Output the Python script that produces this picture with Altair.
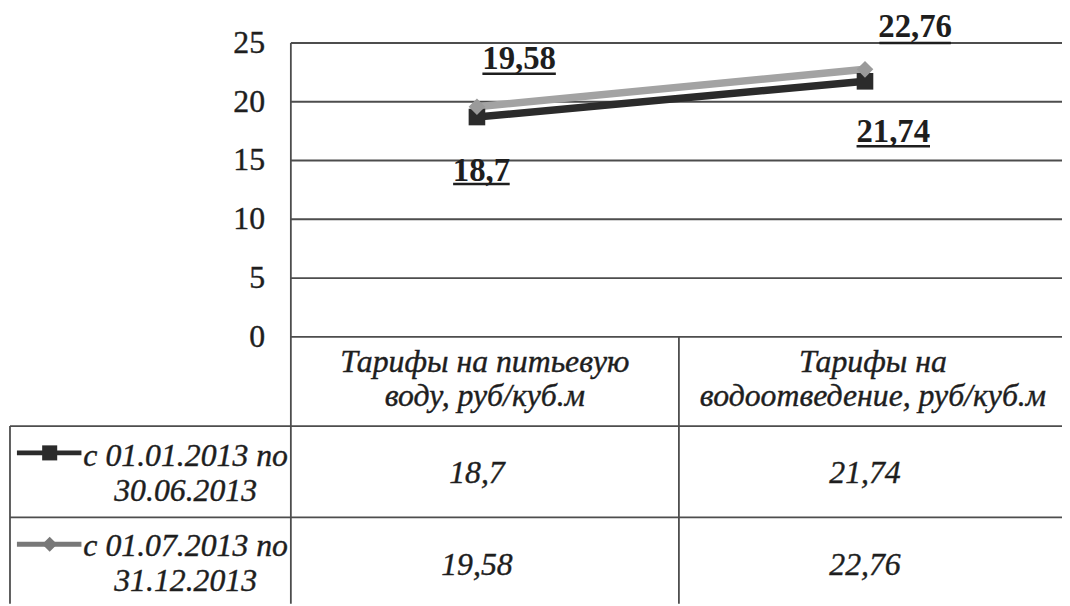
import altair as alt
import pandas as pd

# ---------------- data ----------------
categories = ["Тарифы на питьевую\nводу, руб/куб.м", "Тарифы на\nводоотведение, руб/куб.м"]
series_names = ["с 01.01.2013 по\n30.06.2013", "с 01.07.2013 по\n31.12.2013"]
series_1 = [18.7, 21.74]
series_2 = [19.58, 22.76]
y_ticks = [0, 5, 10, 15, 20, 25]

# ---------------- styles ----------------
FONT = "'Times New Roman', 'Liberation Serif', 'DejaVu Serif', serif"
TXT = "#1e1e1e"
GRID = "#4d4d4d"
series_colors = ["#2b2b2b", "#a3a3a3"]
marker_colors = ["#2b2b2b", "#9a9a9a"]
legend_colors = ["#2b2b2b", "#787878"]
shapes = ["square", "diamond"]
TXT_STYLE = dict(font=FONT, color=TXT, stroke=TXT, strokeWidth=0.4)


def fmt(x):
    return f"{x:g}".replace(".", ",")


# ---------------- layout (reference pixel -> data units) ----------------
PLOT_LEFT, BAND, ZERO_Y, PX_PER_VAL = 293, 391, 337, 11.84
W, H = 1062, 598


def ux(px):
    return (px - PLOT_LEFT) / BAND


def vy(py):
    return (ZERO_Y - py) / PX_PER_VAL


X_MIN, X_MAX = ux(8), ux(8 + W)
Y_MIN, Y_MAX = vy(8 + H), vy(8)
ROW1_TOP, ROW2_TOP = vy(427), vy(519)
TABLE_LEFT = ux(10)
HEADER_Y = vy(362)            # first line of header text
ROW_Y = [vy(457), vy(548)]    # first line of row header text
VAL_Y = [vy(474), vy(567)]    # value cells
SYMBOL_Y = [vy(454), vy(546)]

xs = alt.Scale(domain=[X_MIN, X_MAX], nice=False, zero=False)
ys = alt.Scale(domain=[Y_MIN, Y_MAX], nice=False, zero=False)


def X(f):
    return alt.X(f, type="quantitative", scale=xs, axis=None)


def Y(f):
    return alt.Y(f, type="quantitative", scale=ys, axis=None)


color_scale = alt.Scale(domain=series_names, range=series_colors)

# ---------------- tables ----------------
rows = []
for s, (name, vals) in enumerate(zip(series_names, [series_1, series_2])):
    for i, (cat, val) in enumerate(zip(categories, vals)):
        rows.append(dict(series=name, s=s, cat=cat, i=i, xc=i + 0.5,
                         value=val, label=fmt(val), rowy=VAL_Y[s]))
pts = pd.DataFrame(rows)

segs = [dict(x1=0, x2=X_MAX, y1=t, y2=t) for t in y_ticks]
segs += [
    dict(x1=TABLE_LEFT, x2=X_MAX, y1=ROW1_TOP, y2=ROW1_TOP),
    dict(x1=TABLE_LEFT, x2=X_MAX, y1=ROW2_TOP, y2=ROW2_TOP),
    dict(x1=0, x2=0, y1=max(y_ticks), y2=Y_MIN),
    dict(x1=1, x2=1, y1=0, y2=Y_MIN),
    dict(x1=TABLE_LEFT, x2=TABLE_LEFT, y1=ROW1_TOP, y2=Y_MIN),
]
segs = pd.DataFrame(segs)

ticks = pd.DataFrame(dict(t=y_ticks, label=[str(t) for t in y_ticks], x0=0))
header = pd.DataFrame(dict(cat=categories, xc=[i + 0.5 for i in range(len(categories))], y=HEADER_Y))
rowhead = pd.DataFrame(dict(series=series_names, x=ux(187), y=ROW_Y,
                            sx1=ux(17), sx2=ux(82), sxm=ux(50), sy=SYMBOL_Y))

# ---------------- layers ----------------
rules = alt.Chart(segs).mark_rule(color=GRID, strokeWidth=1.8).encode(
    x=X("x1"), x2="x2", y=Y("y1"), y2="y2")

tick_labels = alt.Chart(ticks).mark_text(
    align="right", baseline="middle", dx=-26, fontSize=32, **TXT_STYLE
).encode(x=X("x0"), y=Y("t"), text="label:N")

lines = alt.Chart(pts).mark_line(strokeWidth=7.5, xOffset=-8).encode(
    x=X("xc"), y=Y("value"),
    color=alt.Color("series:N", scale=color_scale, legend=None),
    order="i:Q")

points = alt.Chart(pts).mark_point(filled=True, size=280, opacity=1, xOffset=-8).encode(
    x=X("xc"), y=Y("value"),
    color=alt.Color("series:N", scale=alt.Scale(domain=series_names, range=marker_colors), legend=None),
    shape=alt.Shape("series:N", scale=alt.Scale(domain=series_names, range=shapes), legend=None))

# per-point label placement (dx, dy, underline dy, underline width) in pixels
label_pos = {
    (0, 0): (-3.5, 54.4, 67.4, 57),
    (0, 1): (20.5, 51.4, 65.4, 74),
    (1, 0): (34.5, -48.2, -33.2, 74),
    (1, 1): (42.5, -42.5, -26.5, 72),
}
label_layers = []
for (s, i), (dx, dy, uy, w) in label_pos.items():
    base = alt.Chart(pts).transform_filter(
        (alt.datum.s == s) & (alt.datum.i == i))
    label_layers.append(base.mark_text(
        fontSize=33, fontWeight="bold", font=FONT, color=TXT,
        baseline="middle", align="center", dx=dx, dy=dy
    ).encode(x=X("xc"), y=Y("value"), text="label:N"))
    label_layers.append(base.mark_tick(
        orient="horizontal", size=w, thickness=2.5, color=TXT,
        xOffset=dx, yOffset=uy, opacity=1
    ).encode(x=X("xc"), y=Y("value")))

header_text = alt.Chart(header).mark_text(
    fontSize=32, fontStyle="italic", **TXT_STYLE,
    lineBreak="\n", lineHeight=35, baseline="middle", align="center"
).encode(x=X("xc"), y=Y("y"), text="cat:N")

row_text = alt.Chart(rowhead).mark_text(
    fontSize=32, fontStyle="italic", **TXT_STYLE,
    lineBreak="\n", lineHeight=35, baseline="middle", align="center"
).encode(x=X("x"), y=Y("y"), text="series:N")

legend_lines = alt.Chart(rowhead).mark_rule(strokeWidth=5).encode(
    x=X("sx1"), x2="sx2", y=Y("sy"),
    color=alt.Color("series:N", scale=alt.Scale(domain=series_names, range=legend_colors), legend=None))

legend_marks = alt.Chart(rowhead).mark_point(filled=True, size=230, opacity=1).encode(
    x=X("sxm"), y=Y("sy"),
    color=alt.Color("series:N", scale=alt.Scale(domain=series_names, range=legend_colors), legend=None),
    shape=alt.Shape("series:N", scale=alt.Scale(domain=series_names, range=shapes), legend=None))

value_text = alt.Chart(pts).mark_text(
    fontSize=32, fontStyle="italic", **TXT_STYLE,
    baseline="middle", align="center", dx=-8
).encode(x=X("xc"), y=Y("rowy"), text="label:N")

chart = alt.layer(
    rules, tick_labels, lines, points, *label_layers,
    header_text, row_text, legend_lines, legend_marks, value_text
).resolve_scale(color="independent", shape="independent").properties(
    width=W, height=H,
    autosize=alt.AutoSizeParams(type="none"),
    padding=0,
    background="white",
).configure_view(stroke=None)

chart.save("out.html", embed_options={"renderer": "svg", "actions": False})
